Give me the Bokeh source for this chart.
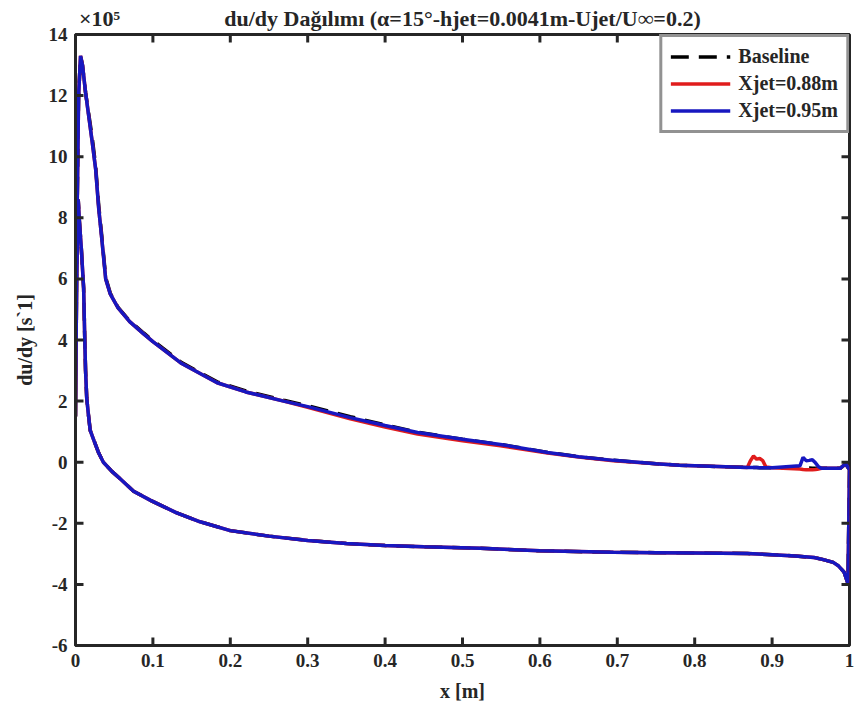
import math
from bokeh.plotting import figure
from bokeh.models import LinearAxis, FixedTicker, Legend, LegendItem, Range1d
from bokeh.embed import file_html
from bokeh.resources import INLINE

# ---------------- data (du/dy in units of 1e5 s^-1) ----------------
# lower surface, trailing edge -> leading edge
lower_x = [1.0, 0.998, 0.993, 0.986, 0.979, 0.965, 0.954, 0.93, 0.9, 0.868, 0.8, 0.75,
           0.695, 0.6, 0.523, 0.45, 0.4, 0.35, 0.3, 0.25, 0.2, 0.161, 0.13, 0.097,
           0.075, 0.058, 0.047, 0.036, 0.03, 0.024, 0.019, 0.0165, 0.0145, 0.013,
           0.012, 0.0105, 0.0075, 0.005, 0.0035, 0.0015, 0.0]
lower_base = [-0.25, -3.97, -3.6, -3.4, -3.28, -3.18, -3.12, -3.07, -3.03, -2.99, -2.97, -2.96,
              -2.95, -2.9, -2.82, -2.77, -2.73, -2.66, -2.56, -2.42, -2.24, -1.95, -1.65, -1.25,
              -0.95, -0.55, -0.3, 0.0, 0.3, 0.7, 1.04, 1.6, 2.1, 3.0,
              4.0, 5.7, 7.0, 7.9, 8.6, 6.0, 1.5]
lower_088 = [-0.25, -3.97, -3.6, -3.4, -3.28, -3.18, -3.12, -3.07, -3.03, -2.99, -2.97, -2.96,
             -2.95, -2.9, -2.82, -2.77, -2.73, -2.66, -2.56, -2.42, -2.24, -1.95, -1.65, -1.25,
             -0.95, -0.55, -0.3, 0.0, 0.3, 0.7, 1.04, 1.6, 2.1, 3.0,
             4.0, 5.7, 7.0, 7.9, 8.6, 6.0, 1.5]
lower_095 = [-0.25, -3.97, -3.6, -3.4, -3.28, -3.18, -3.12, -3.07, -3.03, -2.99, -2.97, -2.96,
             -2.95, -2.9, -2.82, -2.77, -2.73, -2.66, -2.56, -2.42, -2.24, -1.95, -1.65, -1.25,
             -0.95, -0.55, -0.3, 0.0, 0.3, 0.7, 1.04, 1.6, 2.1, 3.0,
             4.0, 5.7, 7.0, 7.9, 8.6, 6.0, 1.5]

# upper surface, leading edge -> trailing edge
upper_x = [0.0, 0.002, 0.004, 0.0065, 0.009, 0.013, 0.0215, 0.026, 0.030, 0.034, 0.039,
           0.045, 0.055, 0.07, 0.088, 0.1, 0.136, 0.183, 0.22, 0.269, 0.3, 0.355, 0.4,
           0.442, 0.5, 0.549, 0.61, 0.65, 0.695, 0.75, 0.78, 0.83, 0.868, 0.872, 0.876,
           0.88, 0.884, 0.888, 0.892, 0.9, 0.936, 0.94, 0.944, 0.948, 0.952, 0.956, 0.96,
           0.964, 0.988, 0.995, 1.0]
upper_base = [1.5, 8.0, 12.0, 13.3, 13.0, 12.1, 10.65, 9.7, 8.4, 7.4, 6.05,
              5.53, 5.07, 4.62, 4.23, 3.98, 3.28, 2.63, 2.33, 2.03, 1.85, 1.49, 1.22,
              0.98, 0.75, 0.58, 0.32, 0.18, 0.06, -0.05, -0.1, -0.14, -0.17, -0.17, -0.17,
              -0.17, -0.18, -0.18, -0.18, -0.18, -0.19, -0.19, -0.19, -0.19, -0.2, -0.2, -0.2,
              -0.2, -0.2, -0.05, -0.25]
upper_088 = [1.5, 8.0, 12.0, 13.3, 13.0, 12.1, 10.5, 9.6, 8.3, 7.3, 6.0,
             5.5, 5.05, 4.6, 4.2, 3.95, 3.25, 2.6, 2.3, 2.0, 1.8, 1.42, 1.15,
             0.92, 0.7, 0.54, 0.3, 0.17, 0.05, -0.05, -0.1, -0.14, -0.17, 0.05, 0.2,
             0.1, 0.12, 0.05, -0.16, -0.18, -0.22, -0.24, -0.25, -0.25, -0.25, -0.24, -0.22,
             -0.2, -0.2, -0.05, -0.25]
upper_095 = [1.5, 8.0, 12.0, 13.3, 13.0, 12.1, 10.5, 9.6, 8.3, 7.3, 6.0,
             5.5, 5.05, 4.6, 4.2, 3.95, 3.25, 2.6, 2.3, 2.0, 1.82, 1.46, 1.2,
             0.97, 0.75, 0.58, 0.32, 0.18, 0.06, -0.05, -0.1, -0.14, -0.17, -0.17, -0.17,
             -0.17, -0.18, -0.18, -0.18, -0.18, -0.12, 0.16, 0.05, 0.06, 0.08, -0.02, -0.15,
             -0.2, -0.2, -0.05, -0.25]

x_ticks = [0, 0.1, 0.2, 0.3, 0.4, 0.5, 0.6, 0.7, 0.8, 0.9, 1]
x_tick_labels = ["0", "0.1", "0.2", "0.3", "0.4", "0.5", "0.6", "0.7", "0.8", "0.9", "1"]
y_ticks = [-6, -4, -2, 0, 2, 4, 6, 8, 10, 12, 14]
y_tick_labels = ["-6", "-4", "-2", "0", "2", "4", "6", "8", "10", "12", "14"]

title_text = "du/dy Dağılımı (α=15°-hjet=0.0041m-Ujet/U∞=0.2)"
exponent_text = "×10⁵"
x_label = "x [m]"
y_label = "du/dy [s`1]"

series_names = ["Baseline", "Xjet=0.88m", "Xjet=0.95m"]
series_colors = ["#000000", "#E01C1C", "#1717C0"]

# ---------------- figure ----------------
FONT = "Liberation Serif"
AX = "#262626"
X0, X1 = 0.0, 1.0
Y0, Y1 = -6.0, 14.0
FRAME_W, FRAME_H = 774, 611   # frame size in px (854-75-5, 718-34-73)

p = figure(width=854, height=718, output_backend="svg", toolbar_location=None,
           x_range=Range1d(X0, X1), y_range=Range1d(Y0, Y1),
           min_border_left=75, min_border_right=5, min_border_top=34, min_border_bottom=73)
p.background_fill_color = "white"
p.border_fill_color = "white"
p.grid.visible = False
p.outline_line_color = AX
p.outline_line_width = 3


def base_axis(ax):
    ax.axis_line_color = AX
    ax.axis_line_width = 3
    ax.major_tick_line_color = None
    ax.minor_tick_line_color = None
    ax.major_tick_in = 0
    ax.major_tick_out = 0
    ax.minor_tick_in = 0
    ax.minor_tick_out = 0
    ax.major_label_text_font = FONT
    ax.major_label_text_font_style = "bold"
    ax.major_label_text_color = AX


for ax, ticks, labels, lab in [(p.xaxis[0], x_ticks, x_tick_labels, x_label),
                               (p.yaxis[0], y_ticks, y_tick_labels, y_label)]:
    base_axis(ax)
    ax.ticker = FixedTicker(ticks=ticks, minor_ticks=[])
    ax.major_label_overrides = {t: l for t, l in zip(ticks, labels)}
    ax.major_label_text_font_size = "19px"
    ax.major_label_standoff = 8
    ax.axis_label = lab
    ax.axis_label_text_font = FONT
    ax.axis_label_text_font_style = "bold"
    ax.axis_label_text_font_size = "20px"
    ax.axis_label_text_color = AX
    ax.axis_label_standoff = 10

# top axis carries the exponent marker and the title as its labels
top_ax = LinearAxis()
base_axis(top_ax)
top_ax.ticker = FixedTicker(ticks=[0.031, 0.5], minor_ticks=[])
top_ax.major_label_overrides = {0.031: exponent_text, 0.5: title_text}
top_ax.major_label_text_font_size = "22px"
top_ax.major_label_standoff = 4
p.add_layout(top_ax, "above")

# lines: closed loop = lower (TE->LE) + upper (LE->TE)
full_x = lower_x + upper_x
series_y = [lower_base + upper_base, lower_088 + upper_088, lower_095 + upper_095]
dashes = ["18 10", "solid", "solid"]
renderers = []
for name, ys, col, dash in zip(series_names, series_y, series_colors, dashes):
    r = p.line(full_x, ys, line_color=col, line_width=3.5, line_dash=dash)
    renderers.append((name, r))

# inward tick marks on all four sides (~8 px long), one broken polyline
tdx = 8 * (X1 - X0) / FRAME_W
tdy = 8 * (Y1 - Y0) / FRAME_H
NAN = math.nan
tx, ty = [], []
for t in x_ticks:
    tx += [float(t), float(t), NAN, float(t), float(t), NAN]
    ty += [Y0, Y0 + tdy, NAN, Y1, Y1 - tdy, NAN]
for t in y_ticks:
    tx += [X0, X0 + tdx, NAN, X1, X1 - tdx, NAN]
    ty += [float(t), float(t), NAN, float(t), float(t), NAN]
p.line(tx, ty, line_color=AX, line_width=3)

legend = Legend(items=[LegendItem(label=n, renderers=[r]) for n, r in renderers],
                location="top_right")
legend.label_text_font = FONT
legend.label_text_font_style = "bold"
legend.label_text_font_size = "20px"
legend.label_text_color = AX
legend.border_line_color = AX
legend.border_line_width = 3
legend.glyph_width = 60
legend.glyph_height = 23
legend.label_height = 23
legend.label_standoff = 8
legend.spacing = 4
legend.padding = 8
legend.margin = 0
legend.background_fill_alpha = 1
p.add_layout(legend)

open("out.html", "w").write(file_html(p, INLINE))
